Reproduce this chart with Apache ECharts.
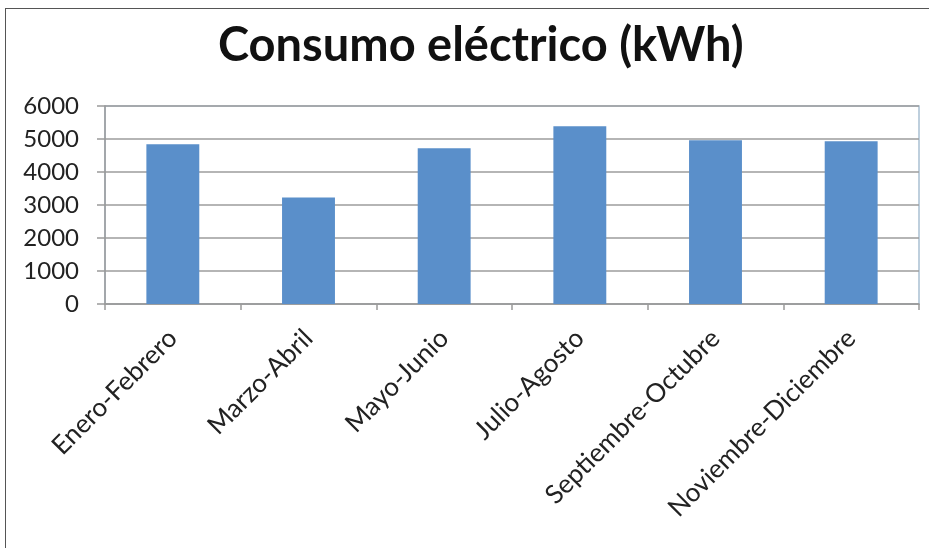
<!DOCTYPE html>
<html>
<head>
<meta charset="utf-8">
<script src="https://cdn.jsdelivr.net/npm/echarts@6/dist/echarts.min.js"></script>
<style>
html,body{margin:0;padding:0;background:#fff;}
#chart{width:929px;height:548px;}
#frame{position:absolute;left:5px;top:8px;width:930px;height:560px;border-left:1.5px solid #555;border-top:1.5px solid #555;pointer-events:none;}
</style>
</head>
<body>
<div id="chart"></div>
<div id="frame"></div>
<script>
const categories = ['Enero-Febrero','Marzo-Abril','Mayo-Junio','Julio-Agosto','Septiembre-Octubre','Noviembre-Diciembre'];
const consumo = [4840, 3230, 4720, 5390, 4960, 4930];
const yMin = 0, yMax = 6000, yStep = 1000;

const chart = echarts.init(document.getElementById('chart'));
chart.setOption({
  animation: false,
  backgroundColor: '#fff',
  title: {
    text: 'Consumo eléctrico (kWh)',
    left: 213,
    top: 17,
    textStyle: {fontFamily: 'Lato', fontWeight: 'bold', fontSize: 47, color: '#111'}
  },
  grid: {
    left: 105, right: 10, top: 106, bottom: 244,
    show: true, borderColor: '#a9c0d2', borderWidth: 1.5, backgroundColor: 'transparent'
  },
  xAxis: {
    type: 'category',
    data: categories,
    axisLine: {lineStyle: {color: '#9a9a9a', width: 1.5}},
    axisTick: {show: true, length: 6, alignWithLabel: false, lineStyle: {color: '#9a9a9a', width: 1.5}},
    axisLabel: {rotate: 45, margin: 30, interval: 0, fontFamily: 'Lato', fontSize: 26, color: '#222'}
  },
  yAxis: {
    type: 'value',
    min: yMin, max: yMax, interval: yStep,
    axisLine: {show: true, lineStyle: {color: '#9a9a9a', width: 1.5}},
    axisTick: {show: true, length: 8, lineStyle: {color: '#9a9a9a', width: 1.5}},
    splitLine: {lineStyle: {color: '#9d9d9d', width: 1.5}},
    axisLabel: {margin: 26, fontFamily: 'Lato', fontSize: 24, color: '#222', formatter: function (v) { return String(v); }}
  },
  series: [{
    type: 'bar',
    data: consumo,
    barWidth: '39%',
    itemStyle: {color: '#5a8fca'}
  }]
});
</script>
</body>
</html>
